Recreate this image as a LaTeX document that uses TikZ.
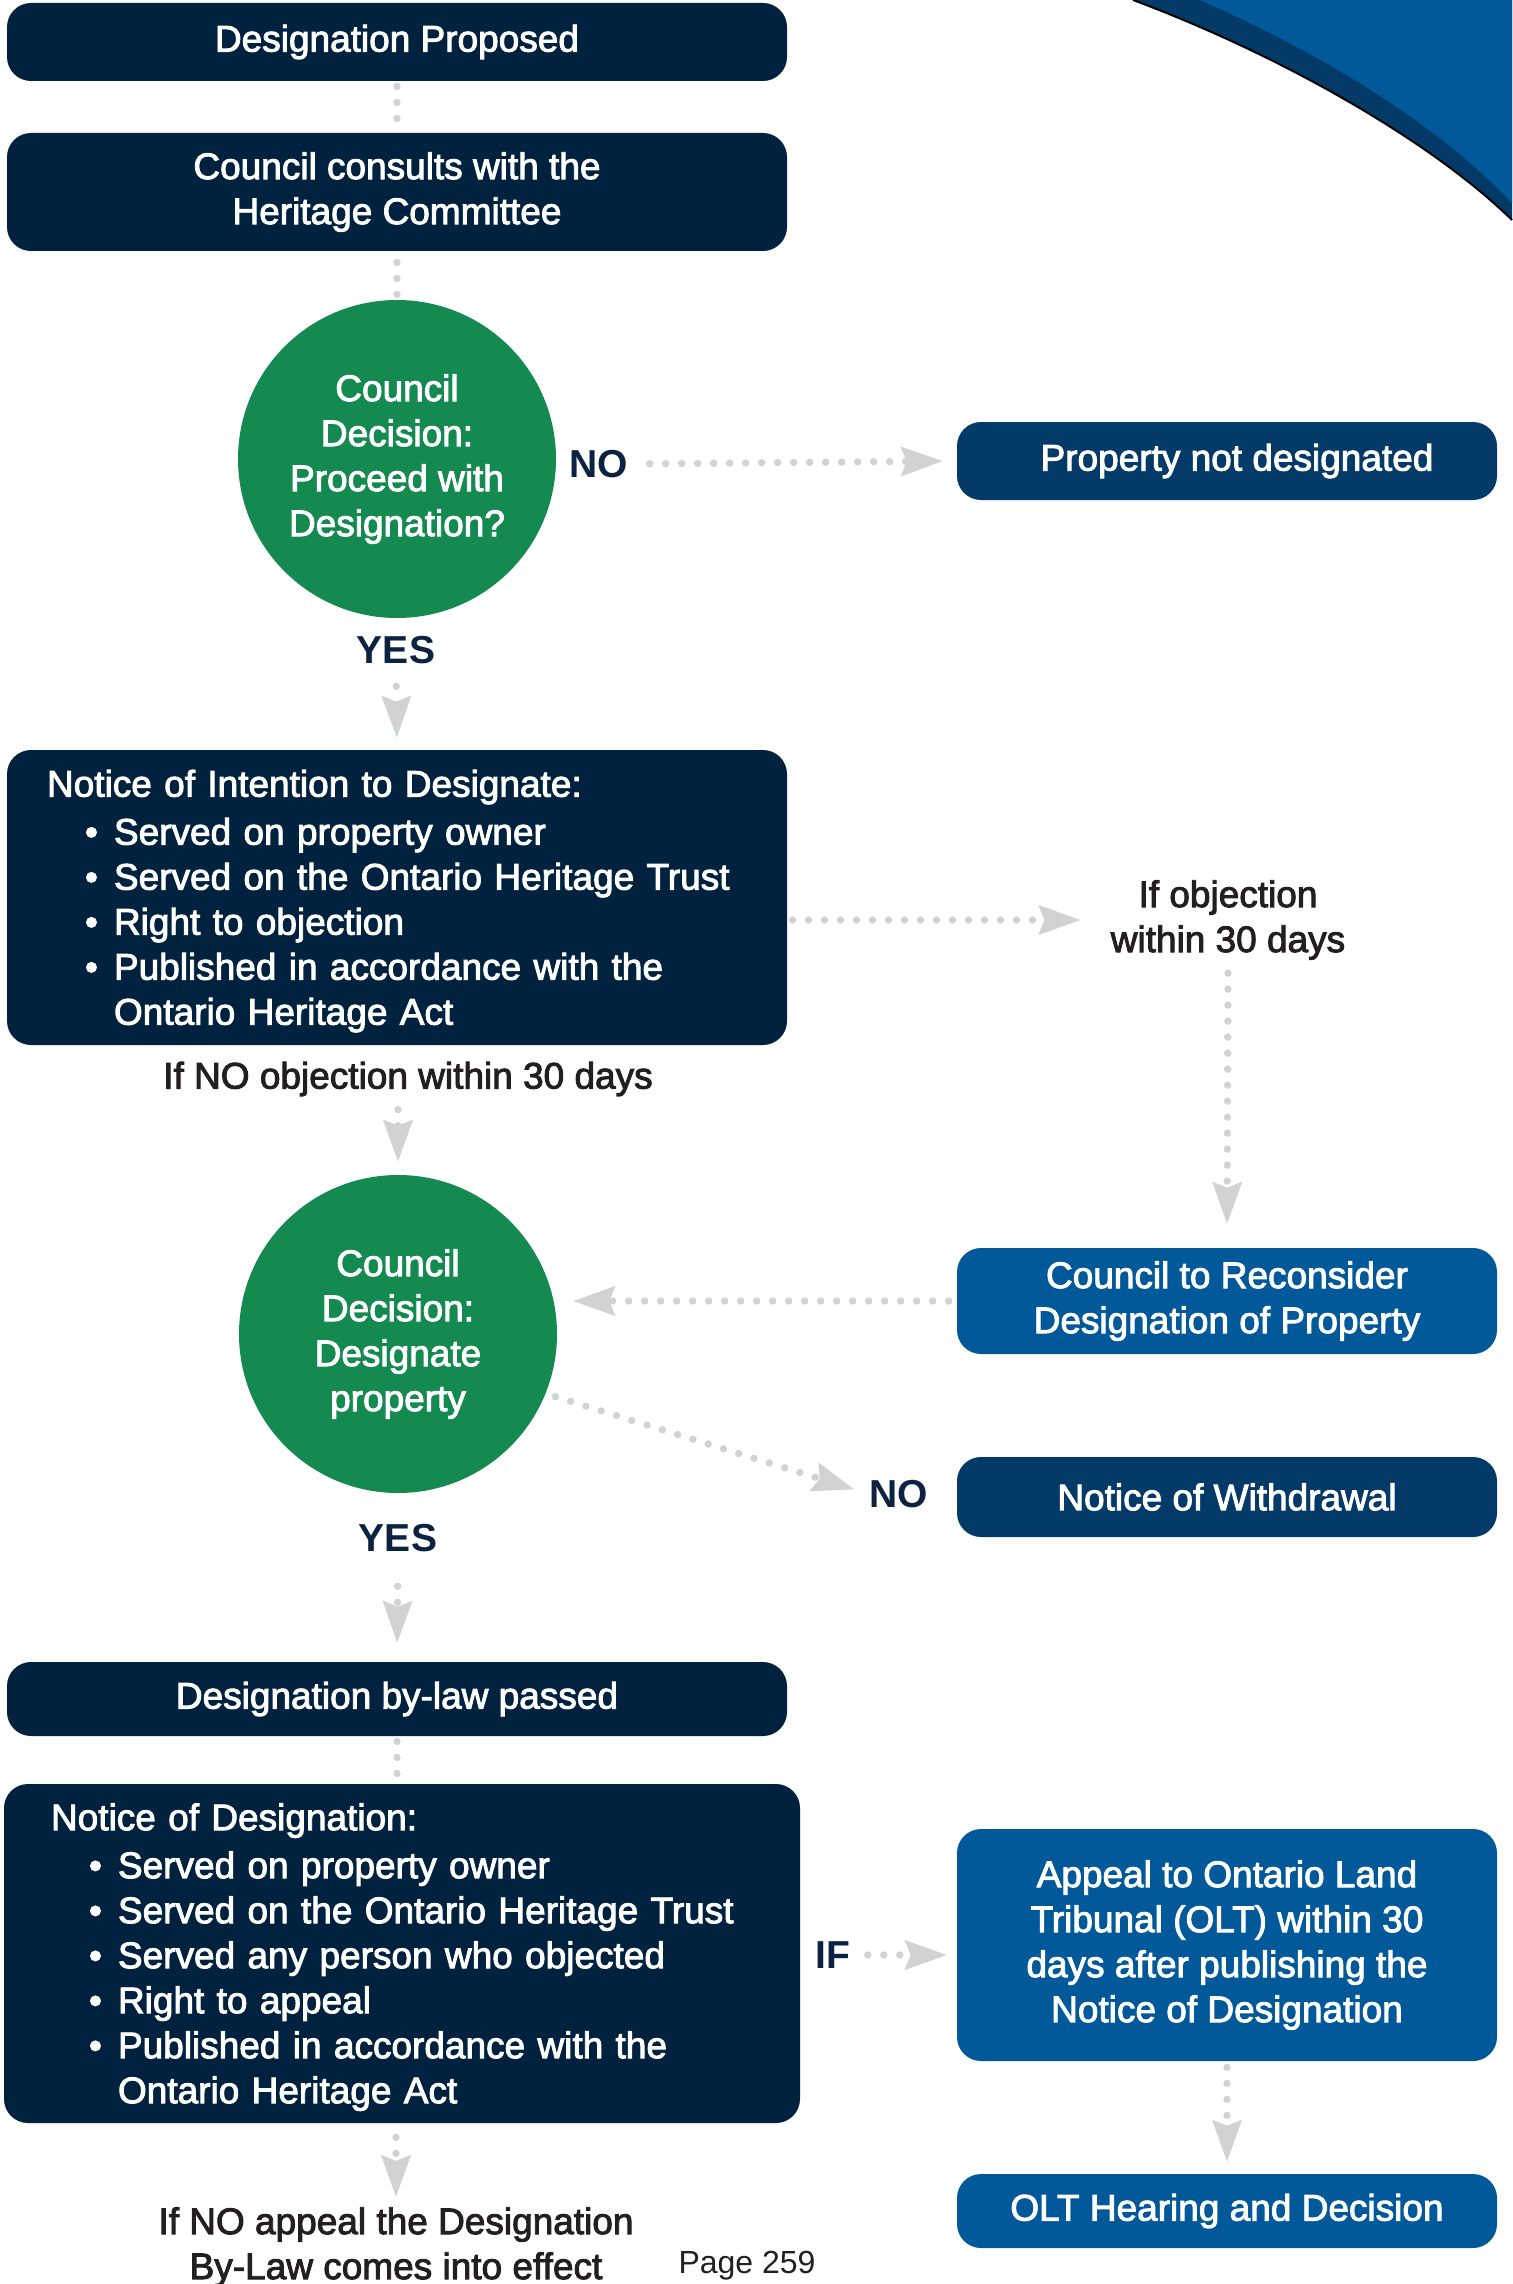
\documentclass[tikz,border=0pt]{standalone}
\usepackage{fontspec}
\setmainfont{Liberation Sans}
\newfontfamily\medfont{Liberation Sans}[FakeBold=2.5]
\usetikzlibrary{arrows.meta,backgrounds}
\definecolor{navy}{HTML}{01223E}
\definecolor{midnavy}{HTML}{043A67}
\definecolor{bblue}{HTML}{02599A}
\definecolor{dgreen}{HTML}{148A50}
\definecolor{dotgrey}{HTML}{D1D2D4}
\definecolor{lblnavy}{HTML}{0B2341}
\definecolor{ink}{HTML}{231F20}
\newcommand{\bul}[1]{\hspace*{19pt}\makebox[14.5pt][l]{\textbullet}#1}
\newcommand{\cont}[1]{\hspace*{33.5pt}#1}
\begin{document}
\begin{tikzpicture}[x=0.5pt,y=-0.5pt,
  bodyfont/.style={font=\medfont\fontsize{18.5}{22.5}\selectfont},
  boxbase/.style={bodyfont, rounded corners=12pt, inner sep=0pt, align=center, text=white},
  lbox/.style={boxbase, fill=navy, minimum width=390pt},
  rbox/.style={boxbase, minimum width=270pt},
  dec/.style={circle, fill=dgreen, minimum size=159pt, inner sep=0pt, align=center, text=white, bodyfont},
  lbl/.style={inner sep=0pt, text=lblnavy, font=\bfseries\fontsize{19.5}{24}\selectfont},
  txt/.style={inner sep=0pt, text=ink, align=center, bodyfont},
  pgtxt/.style={inner sep=0pt, text=ink, font=\fontsize{16}{19}\selectfont},
  conn/.style={draw=dotgrey, line width=3.7pt, line cap=round, dash pattern=on 0pt off 8pt},
  arr/.style={conn, -{Stealth[length=21pt,width=15pt,inset=3pt,line width=0.5pt]}}
]
\useasboundingbox (0,0) rectangle (1512,2284);
% top-right swoosh
\fill[midnavy] (1133,0) .. controls (1280,55) and (1430,140) .. (1512,220) -- (1512,0) -- cycle;
\fill[bblue] (1200,0) .. controls (1340,62) and (1445,132) .. (1512,203) -- (1512,0) -- cycle;
\draw[black, line width=1pt] (1133,0) .. controls (1280,55) and (1430,140) .. (1512,220);

% nodes
\node[lbox, minimum height=39pt] (b1) at (397,42) {Designation Proposed};
\node[lbox, minimum height=59pt] (b2) at (397,192) {Council consults with the\\Heritage Committee};
\node[dec] (c1) at (397,459) {Council\\Decision:\\Proceed with\\Designation?};
\node[lbl] (no1) at (599,464) {NO};
\node[rbox, fill=midnavy, minimum height=39pt] (pnd) at (1227,461) {\hspace*{10pt}Property not designated};
\node[lbl] (yes1) at (396,650) {YES};
\node[lbox, text width=350pt, inner xsep=20pt, align=left, minimum height=147.5pt] (noi) at (397,897.5)
  {\rule{0pt}{17pt}Notice of Intention to Designate:\\[1.5pt]
   \bul{Served on property owner}\\
   \bul{Served on the Ontario Heritage Trust}\\
   \bul{Right to objection}\\
   \bul{Published in accordance with the}\\
   \cont{Ontario Heritage Act}};
\node[txt] (obj) at (1228,920) {If objection\\within 30 days};
\node[rbox, fill=bblue, minimum height=53pt] (rec) at (1227,1301) {Council to Reconsider\\Designation of Property};
\node[txt] (noobj) at (408,1079) {If NO objection within 30 days};
\node[dec] (c2) at (398,1334) {Council\\Decision:\\Designate\\property};
\node[lbl] (no2) at (899,1494) {NO};
\node[rbox, fill=midnavy, minimum height=40pt] (wd) at (1227,1497) {Notice of Withdrawal};
\node[lbl] (yes2) at (398,1538) {YES};
\node[lbox, minimum height=37pt] (bl) at (397,1699) {Designation by-law passed};
\node[lbox, minimum width=398pt, text width=351pt, inner xsep=23.5pt, align=left, minimum height=169.5pt] (nod) at (402,1953.5)
  {\rule{0pt}{17pt}Notice of Designation:\\[1.5pt]
   \bul{Served on property owner}\\
   \bul{Served on the Ontario Heritage Trust}\\
   \bul{Served any person who objected}\\
   \bul{Right to appeal}\\
   \bul{Published in accordance with the}\\
   \cont{Ontario Heritage Act}};
\node[lbl] (if) at (833,1955) {IF};
\node[rbox, fill=bblue, minimum height=116pt] (ap) at (1227,1945) {Appeal to Ontario Land\\Tribunal (OLT) within 30\\days after publishing the\\Notice of Designation};
\node[rbox, fill=bblue, minimum height=37pt] (olt) at (1227,2211) {OLT Hearing and Decision};
\node[txt] (fin) at (396,2247) {If NO appeal the Designation\\By-Law comes into effect};
\node[pgtxt] (pg) at (747,2266) {Page 259};

% connectors
\begin{scope}[on background layer]
\draw[conn, shorten <=2.5pt] (b1.south) -- (b2.north);
\draw[conn, shorten <=5.5pt] (b2.south) -- (c1.north);
\draw[arr, shorten <=10.5pt, shorten >=7pt] (no1.east) -- (pnd.west);
\draw[arr, shorten <=11pt, shorten >=6pt] (yes1.south) -- (noi.north);
\draw[arr, shorten <=2.5pt, shorten >=15pt] (noi.east |- obj.west) -- (obj.west);
\draw[arr, shorten <=6.5pt, shorten >=12pt] (obj.south) -- (rec.north);
\draw[arr, shorten <=4pt, shorten >=8pt] (rec.west) -- (rec.west -| c2.east);
\draw[arr, shorten <=6.5pt, shorten >=6.5pt] (c2.north |- noobj.south) -- (c2.north);
\draw[arr, shorten <=5pt, shorten >=8pt] (c2.-22.5) -- (no2.west);
\draw[arr, shorten <=17pt, shorten >=9.5pt] (yes2.south) -- (bl.north);
\draw[conn, shorten <=2.5pt] (bl.south) -- (bl.south |- nod.north);
\draw[arr, shorten <=8.5pt, shorten >=5pt] (if.east) -- (if.east -| ap.west);
\draw[arr, shorten <=3pt, shorten >=6pt] (ap.south) -- (olt.north);
\draw[arr, shorten <=7pt, shorten >=5pt] (fin.north |- nod.south) -- (fin.north);
\end{scope}
\end{tikzpicture}
\end{document}
